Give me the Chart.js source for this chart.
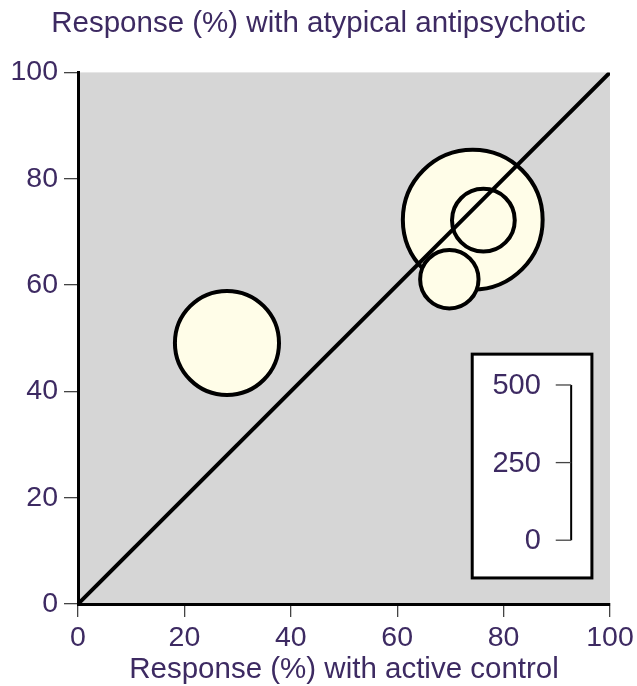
<!DOCTYPE html>
<html>
<head>
<meta charset="utf-8">
<script src="https://cdn.jsdelivr.net/npm/chart.js@4.4.0/dist/chart.umd.min.js"></script>
<style>
  html, body { margin: 0; padding: 0; background: #fff; overflow: hidden; }
  canvas { display: block; }
</style>
</head>
<body>
<canvas id="chart" width="637" height="686"></canvas>
<script>
// trial values (big one first so the others sit on top)
const controlResponse = [74.2, 76.2, 69.8, 28.0];
const atypicalResponse = [72.3, 72.2, 61.1, 49.1];
const sampleSize = [450, 202, 188, 335];
const identityLine = [0, 100];
const axisTicks = [0, 20, 40, 60, 80, 100];
const sizeTicks = [0, 250, 500];

const textColor = "#3d2a62";
const fontFamily = "'Liberation Sans', Arial, Helvetica, sans-serif";
const plotBg = "#d6d6d6";
const bubbleFill = "#fffde8";

// key bar: 500 patients spans this many axis units
const keyUnits = 29.2;
const keyBase = 12.0;

const bubbleData = controlResponse.map((x, i) => ({ x, y: atypicalResponse[i] }));
const lineData = identityLine.map(v => ({ x: v, y: v }));

const plotBackground = {
	id: "plotBackground",
	beforeDraw(chart) {
		const { ctx, chartArea: a } = chart;
		ctx.save();
		ctx.fillStyle = plotBg;
		ctx.fillRect(a.left, a.top, a.right - a.left, a.bottom - a.top);
		ctx.restore();
	},
};

const sizeKey = {
	id: "sizeKey",
	afterDatasetsDraw(chart) {
		const { ctx, scales: { x, y } } = chart;
		const left = x.getPixelForValue(74.1), right = x.getPixelForValue(96.6);
		const top = y.getPixelForValue(47), bottom = y.getPixelForValue(4.9);
		ctx.save();
		ctx.fillStyle = "#fff";
		ctx.fillRect(left, top, right - left, bottom - top);
		ctx.strokeStyle = "#000";
		ctx.lineWidth = 3;
		ctx.strokeRect(left, top, right - left, bottom - top);

		const barX = x.getPixelForValue(92.7);
		const tickX = x.getPixelForValue(89.8);
		const labelX = x.getPixelForValue(87.0);
		const pos = v => y.getPixelForValue(keyBase + v / 500 * keyUnits);
		ctx.lineWidth = 2;
		ctx.beginPath();
		ctx.moveTo(barX, pos(0));
		ctx.lineTo(barX, pos(500));
		ctx.stroke();
		ctx.strokeStyle = "#444";
		ctx.lineWidth = 1.3;
		ctx.font = "29px " + fontFamily;
		ctx.fillStyle = textColor;
		ctx.textAlign = "right";
		ctx.textBaseline = "middle";
		sizeTicks.forEach(v => {
			ctx.beginPath();
			ctx.moveTo(tickX, pos(v));
			ctx.lineTo(barX, pos(v));
			ctx.stroke();
			ctx.fillText(String(v), labelX, pos(v) + 1);
		});
		ctx.restore();
	},
};

new Chart(document.getElementById("chart"), {
	data: {
		datasets: [
			{
				type: "line",
				data: lineData,
				borderColor: "#000",
				borderWidth: 4,
				pointRadius: 0,
			},
			{
				type: "bubble",
				data: bubbleData,
				backgroundColor: bubbleFill,
				borderColor: "#000",
				borderWidth: 4,
				radius: ctx => {
					const a = ctx.chart.chartArea;
					const perUnit = a ? (a.bottom - a.top) / 100 : 5.32;
					return sampleSize[ctx.dataIndex] / 500 * keyUnits / 2 * perUnit;
				},
			},
		],
	},
	options: {
		responsive: false,
		animation: false,
		events: [],
		layout: { autoPadding: false, padding: 0 },
		plugins: {
			legend: { display: false },
			tooltip: { enabled: false },
			title: {
				display: true,
				text: "Response (%) with atypical antipsychotic",
				color: textColor,
				font: { family: fontFamily, size: 29.5, weight: "normal" },
				padding: { top: 6, bottom: 31 },
			},
		},
		scales: {
			x: {
				type: "linear",
				min: 0,
				max: 100,
				afterBuildTicks: s => { s.ticks = axisTicks.map(v => ({ value: v })); },
				afterFit: s => { s.height = 82; s.paddingLeft = 0; s.paddingRight = 27; },
				grid: { drawOnChartArea: false, drawTicks: true, tickLength: 13, color: "#444", lineWidth: 1.3 },
				border: { display: true, color: "#000", width: 3 },
				ticks: { color: textColor, padding: 4, maxRotation: 0, font: { family: fontFamily, size: 28.5 } },
				title: {
					display: true,
					text: "Response (%) with active control",
					color: textColor,
					font: { family: fontFamily, size: 29.5 },
					padding: { top: 0, bottom: -2 },
				},
			},
			y: {
				type: "linear",
				min: 0,
				max: 100,
				afterBuildTicks: s => { s.ticks = axisTicks.map(v => ({ value: v })); },
				afterFit: s => { s.width = 78; s.paddingTop = 0; s.paddingBottom = 0; },
				grid: { drawOnChartArea: false, drawTicks: true, tickLength: 14, color: "#444", lineWidth: 1.3 },
				border: { display: true, color: "#000", width: 3 },
				ticks: { color: textColor, padding: 6, font: { family: fontFamily, size: 28.5 } },
			},
		},
	},
	plugins: [plotBackground, sizeKey],
});
</script>
</body>
</html>
